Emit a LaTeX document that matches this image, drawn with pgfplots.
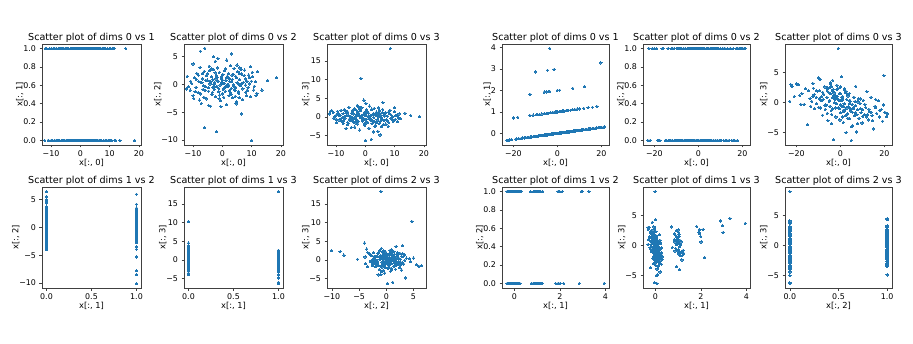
\documentclass[border=0pt]{standalone}
\usepackage{fontspec}
\setmainfont{DejaVu Sans}
\usepackage{pgfplots}
\usepackage{pgfplotstable}
\pgfplotsset{compat=1.18}
\definecolor{mplblue}{HTML}{1F77B4}

% left data set: dims 0,1,2,3
\pgfplotstableread{
a b c d
8.5 1 -1.0 18.3
-1.5 0 4.7 10.3
10.0 1 -10.1 2.5
-2.0 1 -8.5 2.2
-6.0 1 -7.8 1.3
6.5 1 -5.3 0.2
-6.0 0 6.5 -1.5
-7.5 1 6.0 -1.7
3.0 0 5.5 -1.3
0.0 1 0.2 -6.3
2.0 1 1.2 -6.0
5.0 1 3.5 -4.8
18.5 0 1.2 0.1
15.5 1 0.7 0.4
13.5 0 -1.0 1.0
-12.2 0 -0.8 0.8
-12.0 1 1.5 1.5
-10.0 0 3.7 0.5
-3.0 0 5.0 0.5
-9.5 0 1.2 1.5
-9.0 1 -0.5 -0.8
-8.7 0 2.0 0.3
-8.3 1 -1.5 1.8
-8.0 0 0.5 -1.2
-7.6 1 3.1 0.9
-7.2 0 -3.4 2.0
-6.9 1 1.0 -0.3
-6.5 0 -0.2 1.1
-6.2 1 2.4 -2.1
-5.9 0 -1.1 0.5
-5.6 1 0.7 2.6
-5.3 0 -2.6 -0.9
-5.0 1 1.9 0.2
-4.8 0 -0.6 -2.8
-4.5 1 3.3 1.4
-4.2 0 0.1 -0.5
-4.0 1 -3.9 0.8
-3.8 0 1.4 2.2
-3.5 1 -1.8 -1.6
-3.3 0 0.9 0.0
-3.0 1 2.7 -0.7
-2.8 0 -0.9 3.1
-2.6 1 0.4 -1.9
-2.3 0 -2.2 1.0
-2.1 1 1.6 0.4
-1.9 0 -0.3 -3.5
-1.6 1 3.0 1.7
-1.4 0 0.6 -0.2
-1.2 1 -1.3 2.4
-1.0 0 2.2 -1.1
-0.8 1 -0.1 0.6
-0.6 0 -2.9 -0.4
-0.4 1 1.1 1.2
-0.2 0 0.3 -2.3
0.0 1 -1.7 0.9
0.2 0 1.8 3.6
0.4 1 -0.8 -0.6
0.6 0 0.2 1.5
0.8 1 2.5 -1.4
1.0 0 -1.2 0.1
1.2 1 0.8 -3.0
1.4 0 -3.6 2.9
1.6 1 1.3 0.3
1.9 0 -0.4 -0.9
2.1 1 2.0 1.9
2.3 0 -2.0 -1.7
2.6 1 0.5 0.7
2.8 0 3.4 -0.1
3.0 1 -0.7 2.3
3.3 0 1.7 -2.5
3.5 1 -2.4 0.4
3.8 0 0.0 1.3
4.0 1 2.9 -0.8
4.3 0 -1.0 -3.9
4.5 1 1.5 0.9
4.8 0 -3.1 1.6
5.0 1 0.3 -1.2
5.3 0 2.3 0.5
5.6 1 -1.6 -0.3
5.9 0 0.9 2.0
6.2 1 -0.2 -2.0
6.5 0 1.9 0.8
6.9 1 -2.7 1.1
7.2 0 0.4 -0.7
7.6 1 2.6 0.2
8.0 0 -1.4 -1.5
8.4 1 0.6 1.8
8.8 0 -0.5 -0.4
9.2 1 1.2 0.0
9.7 0 -2.2 -1.0
10.2 1 2.2 -0.6
10.7 0 -1.0 0.4
11.2 1 0.5 -0.2
11.8 0 -1.6 -0.5
-10.5 1 0.2 0.0
-11.0 0 -1.0 1.2
-10.0 1 -2.0 -0.6
-7.8 0 -2.8 -0.2
-4.6 0 -3.8 -1.0
-2.4 1 4.2 0.3
1.5 0 4.4 -0.5
4.7 1 -3.5 -1.8
6.0 0 3.0 3.8
-0.5 0 -4.0 4.5
2.7 1 -1.5 -4.0
-3.6 0 2.8 -2.7
7.8 1 1.0 -2.5
9.5 0 3.2 -1.1
-6.6 1 -0.9 -3.1
0.9 0 -0.6 0.2
-1.7 1 0.7 -0.1
3.9 0 -0.3 0.6
-5.2 1 0.8 0.0
5.5 0 0.1 -0.2
-0.1 0 0.4 0.3
1.3 1 -0.2 -0.3
-2.9 0 0.0 0.7
2.4 1 1.0 -1.0
-8.9 1 0.9 0.6
-7.4 0 -1.7 -0.9
-6.3 1 -2.3 0.4
-4.4 0 2.5 1.8
-3.2 1 -0.6 -1.3
-2.2 0 1.0 2.7
-1.1 1 -2.6 -0.8
0.3 0 -0.9 -1.6
1.1 1 2.8 1.0
2.2 0 -0.1 2.1
3.4 1 0.9 -2.2
4.4 0 -2.1 0.0
5.8 1 2.0 1.2
7.0 0 -0.8 -1.9
8.2 1 -2.0 0.9
9.9 0 0.6 1.4
10.9 1 -0.3 -1.3
12.0 0 2.3 -0.4
-11.5 1 -0.4 1.7
-9.8 0 -2.5 -1.5
-7.0 1 0.3 0.1
-5.5 0 1.6 -0.6
-4.7 1 -1.2 1.0
-3.9 0 0.5 -1.4
-2.7 1 -0.4 1.5
-1.8 0 1.3 0.2
-0.9 1 -1.9 -0.2
0.1 0 0.8 -0.8
0.7 1 -0.5 1.1
1.7 0 1.5 -0.4
2.5 1 -1.1 0.6
3.2 0 0.6 -1.2
4.1 1 -0.9 0.3
4.9 0 1.2 1.0
5.7 1 -2.4 -0.7
6.7 0 0.2 0.5
7.4 1 1.6 -1.0
8.6 0 -1.1 0.7
9.3 1 0.1 -0.9
10.4 0 1.4 0.3
-9.3 1 -1.3 0.9
-8.2 0 1.7 -0.4
-6.8 1 2.0 1.6
-5.8 0 -0.4 -1.7
-4.3 1 0.6 -0.2
-3.4 0 -1.4 2.0
-2.5 1 2.1 -1.2
-1.3 0 -0.7 0.4
-0.3 1 1.4 -1.8
0.5 0 -2.3 1.9
1.8 1 0.0 -0.5
2.9 0 -1.8 0.9
3.7 1 1.8 -1.5
4.6 0 -0.5 2.4
5.4 1 -1.3 -2.6
6.4 0 2.7 -0.9
7.9 1 -0.1 1.3
9.0 0 1.7 -0.2
11.5 1 -2.0 0.8
-10.8 0 0.6 -0.3
}\leftdata

% right data set: dims 0,1,2,3
\pgfplotstableread{
a b c d
-23.0 -0.32 0 0.2
-22.5 -0.32 1 3.0
-22.0 -0.31 0 2.7
-19.0 -0.27 1 3.0
-17.5 -0.25 0 1.5
-16.5 -0.23 1 -0.3
-15.0 -0.21 0 -3.7
-14.5 -0.20 0 2.0
-13.8 -0.19 1 0.7
-13.0 -0.18 0 0.2
-12.3 -0.17 1 2.4
-11.7 -0.16 0 -1.0
-11.0 -0.15 1 0.9
-10.4 -0.15 0 1.9
-9.8 -0.14 1 -0.8
-9.2 -0.13 0 3.9
-8.7 -0.12 1 0.3
-8.5 -0.12 0 1.0
-8.1 -0.11 0 -2.1
-7.6 -0.11 1 1.4
-7.0 -0.10 0 2.6
-6.6 -0.09 1 -0.4
-6.1 -0.09 0 0.9
-6.0 -0.08 0 -1.8
-5.7 -0.08 1 -3.0
-5.3 -0.07 0 1.7
-4.9 -0.07 1 0.4
-4.5 -0.06 0 3.1
-4.1 -0.06 1 -1.3
-3.7 -0.05 0 0.8
-3.5 -0.05 1 -1.0
-3.3 -0.05 1 2.2
-3.0 -0.04 0 -6.2
-2.7 -0.04 1 0.0
-2.5 -0.03 0 0.5
-2.3 -0.03 0 1.2
-2.0 -0.03 1 -2.4
-1.8 -0.03 1 -0.2
-1.6 -0.02 0 2.9
-1.3 -0.02 1 0.6
-1.0 -0.01 0 9.0
-0.7 -0.01 1 -0.9
-0.5 -0.01 0 -1.0
-0.4 -0.01 0 1.5
-0.1 0.00 1 -1.7
0.0 0.00 1 -0.4
0.2 0.00 0 0.3
0.5 0.01 1 4.3
0.8 0.01 0 -0.6
1.0 0.01 0 -2.4
1.1 0.02 1 1.0
1.4 0.02 0 -3.3
1.5 0.02 1 -1.5
1.7 0.02 1 -0.2
2.0 0.03 0 2.3
2.3 0.03 1 -1.1
2.5 0.04 0 -2.2
2.6 0.04 0 -5.0
2.9 0.04 1 0.5
3.0 0.04 0 -0.9
3.2 0.04 0 -1.9
3.5 0.05 1 1.1
3.8 0.05 0 -0.7
4.0 0.06 0 1.5
4.1 0.06 1 -2.7
4.4 0.06 0 0.2
4.7 0.07 1 -1.4
5.0 0.07 0 -6.3
5.3 0.07 1 -0.3
5.6 0.08 0 -3.9
5.9 0.08 1 -1.0
6.0 0.08 1 -0.8
6.2 0.09 0 0.9
6.5 0.09 1 -2.2
6.9 0.10 0 -0.5
7.3 0.10 1 -4.9
7.5 0.11 1 -2.0
7.7 0.11 0 -1.2
8.1 0.11 1 0.6
8.5 0.12 0 -2.6
8.9 0.12 1 -0.1
9.4 0.13 0 -1.7
9.9 0.14 1 -3.4
10.4 0.15 0 0.4
10.9 0.15 1 -2.0
11.5 0.16 0 -0.8
12.1 0.17 1 1.8
12.7 0.18 0 -2.9
13.3 0.19 1 -1.5
14.0 0.20 0 0.9
14.7 0.21 1 -3.0
15.2 0.21 0 -4.4
15.8 0.22 1 -0.6
16.5 0.23 0 -1.8
17.2 0.24 1 0.3
17.8 0.25 0 -2.4
18.5 0.26 1 -1.2
19.2 0.27 1 -3.1
20.3 0.28 1 -1.6
21.0 0.29 1 -2.3
21.3 0.30 1 -1.9
-18.5 -0.26 0 1.2
-16.0 -0.22 1 2.3
-13.5 -0.19 0 -0.6
-12.0 -0.17 1 1.3
-10.8 -0.15 0 -0.2
-9.5 -0.13 1 2.0
-7.9 -0.11 0 0.5
-6.9 -0.10 1 -1.1
-5.9 -0.08 0 1.9
-4.7 -0.07 1 -0.6
-3.9 -0.05 0 -2.0
-2.9 -0.04 1 1.6
-2.1 -0.03 0 -0.9
-1.1 -0.02 1 2.4
-0.2 0.00 0 -2.9
0.6 0.01 1 0.9
1.3 0.02 0 -1.3
2.2 0.03 1 1.7
3.4 0.05 0 -2.6
4.3 0.06 1 0.4
5.5 0.08 0 -1.6
6.7 0.09 1 0.2
7.9 0.11 0 -3.5
9.1 0.13 1 -1.0
10.1 0.14 0 -2.3
11.2 0.16 1 -0.3
13.0 0.18 0 -1.1
14.4 0.20 1 -2.2
16.1 0.23 0 0.5
19.6 0.27 1 -0.4
-21.0 -0.29 1 1.0
-20.0 0.72 1 3.1
-18.0 0.75 0 -0.3
-12.5 0.83 0 1.0
-11.0 0.85 1 2.0
-9.5 0.87 0 0.6
-9.0 0.87 1 -0.9
-8.0 0.89 1 1.7
-7.0 0.90 0 -0.5
-6.0 0.92 1 2.5
-5.0 0.93 0 0.2
-4.5 0.94 0 1.5
-4.0 0.94 1 -3.5
-3.0 0.96 0 1.2
-2.0 0.97 1 0.8
-1.5 0.98 1 1.0
-1.0 0.99 0 -0.9
-0.5 0.99 1 0.3
0.0 1.00 1 2.6
1.0 1.01 0 0.4
1.5 1.02 0 -0.6
1.8 1.03 1 2.2
2.0 1.03 1 -1.4
2.5 1.04 0 1.9
3.0 1.04 0 1.5
4.0 1.06 1 -0.2
4.5 1.06 0 -1.0
5.0 1.07 0 -4.0
6.0 1.08 1 0.9
7.0 1.10 0 -1.7
8.0 1.11 1 0.1
9.0 1.13 1 0.6
10.0 1.14 0 -1.2
12.0 1.17 1 -2.4
14.0 1.20 0 -1.6
16.0 1.22 0 -0.8
18.0 1.25 1 -1.3
-12.5 1.82 0 3.2
-6.0 1.92 1 2.2
-5.0 1.93 0 2.5
-4.0 1.94 0 2.7
-3.5 1.95 1 2.0
0.0 2.00 1 1.5
1.0 2.01 0 0.6
7.0 2.10 1 2.7
12.5 2.17 0 -2.0
-10.0 2.86 0 4.1
-4.5 2.94 1 3.3
-1.5 2.98 1 2.2
19.8 3.28 1 4.5
-3.5 3.95 0 3.7
}\rightdata

\pgfplotsset{
  sp/.style={
    scale only axis, anchor=south west,
    axis line style={black!75, line width=0.6pt},
    tick align=outside, xtick pos=bottom, ytick pos=left,
    major tick length=2.5pt, tick style={black!75, line width=0.6pt},
    title style={font=\fontsize{9.6}{11}\selectfont, at={(0.5,1)}, anchor=south, yshift=-8pt},
    label style={font=\fontsize{8.3}{9.5}\selectfont},
    ticklabel style={font=\fontsize{7.9}{9}\selectfont},
    xlabel style={yshift=4.5pt}, ylabel style={yshift=-7pt},
  },
  ls/.style={sp, width=99pt, height=101pt},
  rs/.style={sp, width=107pt, height=101pt},
  dots/.style={only marks, mark=*, mark size=1.15pt, color=mplblue, mark options={line width=0pt}},
  % left ranges
  xLa/.style={xmin=-13.1, xmax=20.7, xtick={-10,0,10,20}, xticklabels={−10,0,10,20}, xlabel={x[:, 0]}},
  xLb/.style={xmin=-0.05, xmax=1.05, xtick={0,0.5,1}, xticklabels={0.0,0.5,1.0}, xlabel={x[:, 1]}},
  xLc/.style={xmin=-10.9, xmax=7.3, xtick={-10,-5,0,5}, xticklabels={−10,−5,0,5}, xlabel={x[:, 2]}},
  yLb/.style={ymin=-0.05, ymax=1.05, ytick={0,0.2,0.4,0.6,0.8,1}, yticklabels={0.0,0.2,0.4,0.6,0.8,1.0}, ylabel={x[:, 1]}},
  yLc/.style={ymin=-10.9, ymax=7.3, ytick={-10,-5,0,5}, yticklabels={−10,−5,0,5}, ylabel={x[:, 2]}},
  yLd/.style={ymin=-7.5, ymax=19.5, ytick={-5,0,5,10,15}, yticklabels={−5,0,5,10,15}, ylabel={x[:, 3]}},
  % right ranges
  xRa/.style={xmin=-25.2, xmax=23.5, xtick={-20,0,20}, xticklabels={−20,0,20}, xlabel={x[:, 0]}},
  xRb/.style={xmin=-0.54, xmax=4.16, xtick={0,2,4}, xticklabels={0,2,4}, xlabel={x[:, 1]}},
  xRc/.style={xmin=-0.05, xmax=1.05, xtick={0,0.5,1}, xticklabels={0.0,0.5,1.0}, xlabel={x[:, 2]}},
  yRb/.style={ymin=-0.54, ymax=4.16, ytick={0,1,2,3,4}, yticklabels={0,1,2,3,4}, ylabel={x[:, 1]}},
  yRc/.style={ymin=-0.05, ymax=1.05, ytick={0,0.2,0.4,0.6,0.8,1}, yticklabels={0.0,0.2,0.4,0.6,0.8,1.0}, ylabel={x[:, 2]}},
  yRd/.style={ymin=-7.07, ymax=9.77, ytick={-5,0,5}, yticklabels={−5,0,5}, ylabel={x[:, 3]}},
}

\begin{document}
\begin{tikzpicture}
\path (0,0) rectangle (913pt,343pt);

% ---- left group ----
\begin{axis}[ls, at={(42pt,198pt)}, xLa, yLb, title={Scatter plot of dims 0 vs 1}]
\addplot[dots] table[x=a, y=b] {\leftdata};
\end{axis}
\begin{axis}[ls, at={(184pt,198pt)}, xLa, yLc, title={Scatter plot of dims 0 vs 2}]
\addplot[dots] table[x=a, y=c] {\leftdata};
\end{axis}
\begin{axis}[ls, at={(327pt,198pt)}, xLa, yLd, title={Scatter plot of dims 0 vs 3}]
\addplot[dots] table[x=a, y=d] {\leftdata};
\end{axis}
\begin{axis}[ls, at={(42pt,55pt)}, xLb, yLc, title={Scatter plot of dims 1 vs 2}]
\addplot[dots] table[x=b, y=c] {\leftdata};
\end{axis}
\begin{axis}[ls, at={(184pt,55pt)}, xLb, yLd, title={Scatter plot of dims 1 vs 3}]
\addplot[dots] table[x=b, y=d] {\leftdata};
\end{axis}
\begin{axis}[ls, at={(327pt,55pt)}, xLc, yLd, title={Scatter plot of dims 2 vs 3}]
\addplot[dots] table[x=c, y=d] {\leftdata};
\end{axis}

% ---- right group ----
\begin{axis}[rs, at={(502pt,198pt)}, xRa, yRb, title={Scatter plot of dims 0 vs 1}]
\addplot[dots] table[x=a, y=b] {\rightdata};
\end{axis}
\begin{axis}[rs, at={(643pt,198pt)}, xRa, yRc, title={Scatter plot of dims 0 vs 2}]
\addplot[dots] table[x=a, y=c] {\rightdata};
\end{axis}
\begin{axis}[rs, at={(785pt,198pt)}, xRa, yRd, title={Scatter plot of dims 0 vs 3}]
\addplot[dots] table[x=a, y=d] {\rightdata};
\end{axis}
\begin{axis}[rs, at={(502pt,55pt)}, xRb, yRc, title={Scatter plot of dims 1 vs 2}]
\addplot[dots] table[x=b, y=c] {\rightdata};
\end{axis}
\begin{axis}[rs, at={(643pt,55pt)}, xRb, yRd, title={Scatter plot of dims 1 vs 3}]
\addplot[dots] table[x=b, y=d] {\rightdata};
\end{axis}
\begin{axis}[rs, at={(785pt,55pt)}, xRc, yRd, title={Scatter plot of dims 2 vs 3}]
\addplot[dots] table[x=c, y=d] {\rightdata};
\end{axis}
\end{tikzpicture}
\end{document}
